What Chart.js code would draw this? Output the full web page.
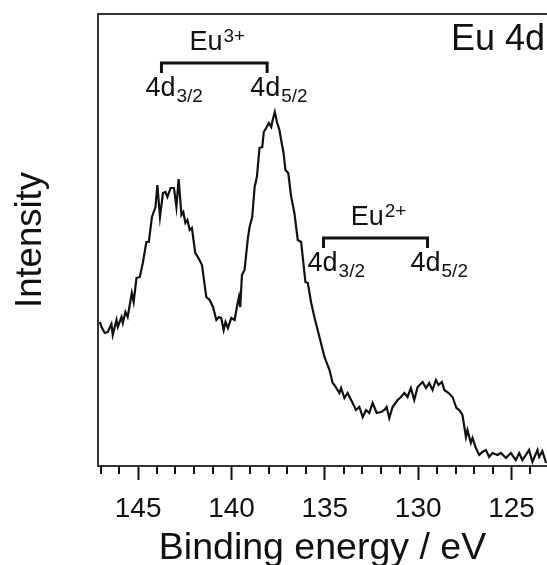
<!DOCTYPE html>
<html>
<head>
<meta charset="utf-8">
<script src="https://cdn.jsdelivr.net/npm/chart.js@4.4.1/dist/chart.umd.min.js"></script>
<style>
  body { margin: 0; background: #fff; }
  canvas { display: block; }
</style>
</head>
<body>
<canvas id="xps" width="547" height="565"></canvas>
<script>
// Eu 4d XPS spectrum (intensity in arbitrary units)
const energy = [
  147.05, 146.96, 146.79, 146.63, 146.43, 146.36, 146.16, 146.09, 145.89, 145.82,
  145.68, 145.56, 145.34, 145.24, 145.09, 144.91, 144.75, 144.56, 144.43, 144.26,
  144.07, 143.97, 143.83, 143.67, 143.54, 143.43, 143.26, 143.08, 142.95, 142.83,
  142.68, 142.58, 142.47, 142.36, 142.24, 142.12, 141.94, 141.80, 141.58, 141.35,
  141.17, 140.99, 140.81, 140.67, 140.55, 140.42, 140.32, 140.19, 140.01, 139.83,
  139.71, 139.60, 139.53, 139.44, 139.30, 139.12, 139.03, 138.89, 138.76, 138.64,
  138.50, 138.35, 138.27, 138.11, 138.00, 137.87, 137.82, 137.68, 137.55, 137.43,
  137.34, 137.21, 137.11, 136.96, 136.80, 136.63, 136.45, 136.27, 136.04, 135.91,
  135.73, 135.56, 135.29, 135.02, 134.75, 134.58, 134.49, 134.22, 134.13, 133.95,
  133.78, 133.51, 133.33, 133.15, 132.97, 132.79, 132.62, 132.44, 132.22, 131.99,
  131.81, 131.69, 131.55, 131.37, 131.10, 130.92, 130.74, 130.57, 130.39, 130.21,
  130.03, 129.76, 129.58, 129.41, 129.23, 129.05, 128.91, 128.73, 128.60, 128.37,
  128.16, 127.95, 127.80, 127.63, 127.44, 127.36, 127.18, 127.09, 126.91, 126.73,
  126.56, 126.37, 126.20, 126.02, 125.75, 125.57, 125.30, 125.04, 124.77, 124.59,
  124.42, 124.23, 124.06, 123.88, 123.61, 123.52, 123.35, 123.15
];
const intensity = [
  144, 139, 133, 134, 142, 131, 146, 139, 149, 143,
  154, 149, 173, 164, 188, 189, 203, 224, 224, 249,
  259, 281, 249, 273, 274, 269, 278, 278, 259, 287,
  251, 254, 243, 246, 236, 238, 213, 209, 201, 169,
  166, 159, 146, 149, 148, 136, 144, 138, 148, 146,
  159, 169, 159, 191, 196, 228, 239, 249, 279, 289,
  318, 319, 334, 339, 343, 339, 344, 354, 343, 336,
  326, 313, 296, 293, 269, 253, 226, 224, 184, 183,
  163, 149, 129, 109, 96, 83, 81, 73, 78, 68,
  73, 63, 56, 59, 49, 56, 53, 63, 53, 54,
  56, 59, 48, 59, 66, 69, 73, 69, 78, 66,
  79, 84, 78, 83, 76, 86, 81, 84, 76, 73,
  69, 58, 56, 51, 29, 36, 23, 28, 18, 11,
  14, 16, 9, 13, 11, 13, 8, 13, 6, 13,
  6, 11, 16, 4, 16, 9, 15, 3
];
const xTicks = [124, 125, 126, 127, 128, 129, 130, 131, 132, 133, 134, 135,
                136, 137, 138, 139, 140, 141, 142, 143, 144, 145, 146, 147];

// spin-orbit doublet markers: [ion charge, 4d3/2 energy, 4d5/2 energy, bracket height]
const doublets = [
  ['3+', 143.75, 138.09, 403],
  ['2+', 135.07, 129.5, 228]
];

const FONT = '"Liberation Sans", Arial, sans-serif';
const INK = '#111';

function richText(ctx, x, y, main, extra, size, sup) {
  ctx.font = size + 'px ' + FONT;
  ctx.fillText(main, x, y);
  const w = ctx.measureText(main).width;
  ctx.font = '19px ' + FONT;
  ctx.fillText(extra, x + w + 1, sup ? y - 8 : y + 6);
}
function richWidth(ctx, main, extra, size) {
  ctx.font = size + 'px ' + FONT;
  const w = ctx.measureText(main).width;
  ctx.font = '19px ' + FONT;
  return w + 1 + ctx.measureText(extra).width;
}

const decorations = {
  id: 'decorations',
  afterDraw(chart) {
    const { ctx, chartArea, scales: { x, y } } = chart;
    ctx.save();
    // top frame line
    ctx.strokeStyle = '#333';
    ctx.lineWidth = 2;
    ctx.beginPath();
    ctx.moveTo(chartArea.left, chartArea.top);
    ctx.lineTo(chartArea.right, chartArea.top);
    ctx.stroke();

    // minor ticks
    ctx.strokeStyle = INK;
    x.ticks.forEach(t => {
      if (t.value % 5 === 0) return;
      const px = Math.round(x.getPixelForValue(t.value));
      ctx.beginPath();
      ctx.moveTo(px, chartArea.bottom);
      ctx.lineTo(px, chartArea.bottom + 8);
      ctx.stroke();
    });

    // doublet brackets + labels
    ctx.fillStyle = INK;
    ctx.textBaseline = 'alphabetic';
    ctx.textAlign = 'left';
    doublets.forEach(([ion, e32, e52, h]) => {
      const x1 = x.getPixelForValue(e32);
      const x2 = x.getPixelForValue(e52);
      const py = y.getPixelForValue(h);
      ctx.lineWidth = 3;
      ctx.beginPath();
      ctx.moveTo(x1, py + 10);
      ctx.lineTo(x1, py);
      ctx.lineTo(x2, py);
      ctx.lineTo(x2, py + 10);
      ctx.stroke();

      const w = richWidth(ctx, 'Eu', ion, 27);
      richText(ctx, (x1 + x2) / 2 + 3 - w / 2, py - 13, 'Eu', ion, 27, true);
      richText(ctx, x1 - 16, py + 33, '4d', '3/2', 27, false);
      richText(ctx, x2 - 17, py + 33, '4d', '5/2', 27, false);
    });

    ctx.font = '36px ' + FONT;
    ctx.textAlign = 'right';
    ctx.fillText('Eu 4d', 545, 50);
    ctx.restore();
  }
};

new Chart(document.getElementById('xps'), {
  type: 'line',
  data: {
    datasets: [{
      data: energy.map((e, i) => ({ x: e, y: intensity[i] })),
      borderColor: INK,
      borderWidth: 2.2,
      pointRadius: 0,
      tension: 0,
      fill: false
    }]
  },
  options: {
    responsive: false,
    animation: false,
    layout: { padding: { top: 14, left: 0, right: 0, bottom: 0 } },
    plugins: { legend: { display: false }, tooltip: { enabled: false } },
    scales: {
      x: {
        type: 'linear',
        reverse: true,
        min: 123.1,
        max: 147.15,
        afterBuildTicks: s => { s.ticks = xTicks.map(v => ({ value: v })); },
        afterFit: s => { s.height = 99; },
        border: { display: true, color: '#333', width: 2 },
        grid: {
          drawOnChartArea: false,
          drawTicks: true,
          tickLength: 14,
          tickWidth: 2,
          tickColor: c => (c.tick && c.tick.value % 5 === 0) ? INK : 'rgba(0,0,0,0)'
        },
        ticks: {
          autoSkip: false,
          maxRotation: 0,
          padding: 12,
          color: INK,
          font: { family: FONT, size: 28 },
          callback: v => (v % 5 === 0 ? String(v) : '')
        },
        title: {
          display: true,
          text: 'Binding energy / eV',
          color: INK,
          font: { family: FONT, size: 37.5, lineHeight: 1 },
          padding: { top: 0, bottom: -2 }
        }
      },
      y: {
        min: 0,
        max: 452,
        afterFit: s => { s.width = 98; },
        border: { display: true, color: '#333', width: 2 },
        grid: { display: false },
        ticks: { display: false },
        title: {
          display: true,
          text: 'Intensity',
          color: INK,
          font: { family: FONT, size: 36.5, lineHeight: 1 },
          padding: { top: 13, bottom: 0 }
        }
      }
    }
  },
  plugins: [decorations]
});
</script>
</body>
</html>
